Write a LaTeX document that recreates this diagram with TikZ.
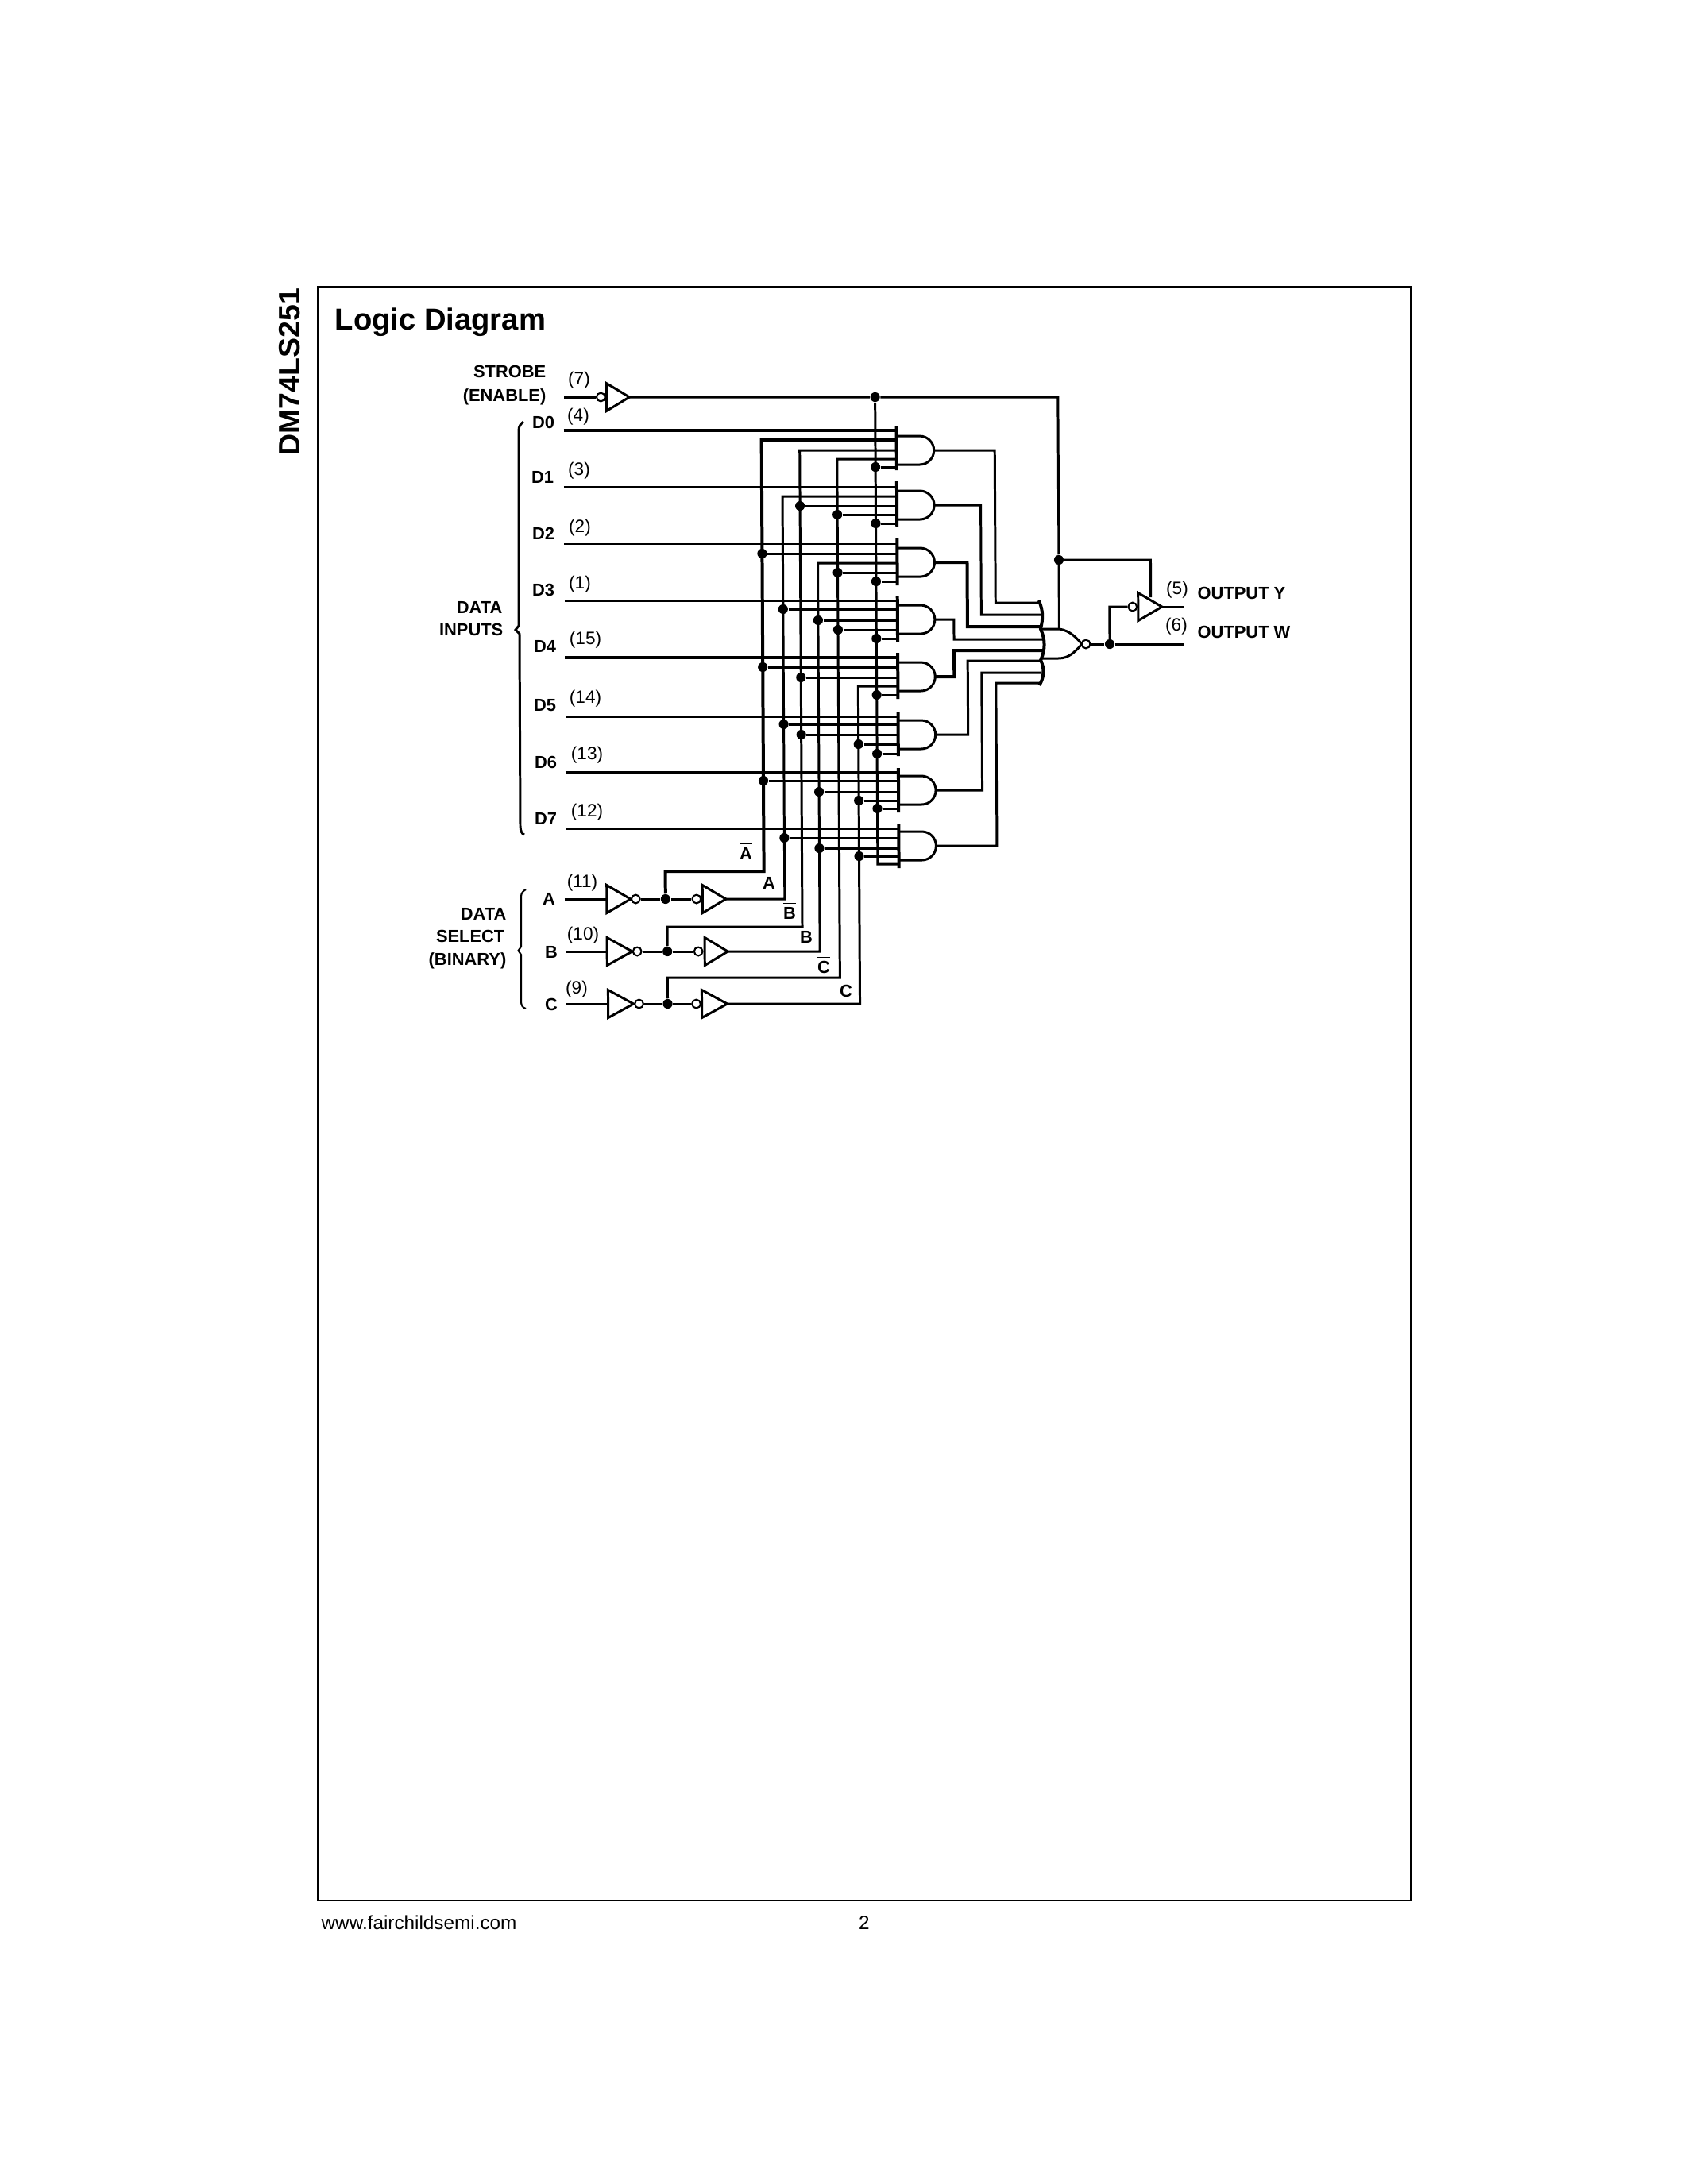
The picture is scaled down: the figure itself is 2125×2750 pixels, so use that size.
\documentclass[tikz,border=0pt]{standalone}
\usepackage{fontspec}
\setmainfont{Liberation Sans}
\tikzset{
  wire/.style={line width=.86pt},
  lightwire/.style={line width=.6pt},
  heavywire/.style={line width=1.15pt},
  dot/.style={circle,fill=black,inner sep=0pt,minimum size=3.5pt},
  bub/.style={circle,draw,fill=white,line width=.6pt,inner sep=0pt,minimum size=3.1pt},
  lab/.style={inner sep=0pt,text height=4.4pt,text depth=0pt,font=\fontsize{6.3}{7}\bfseries\selectfont},
  pin/.style={inner sep=0pt,font=\fontsize{6.5}{7}\selectfont},
}
\def\xnA{960}\def\xA{986}\def\xnB{1008}\def\xB{1030}\def\xnC{1055}\def\xC{1080}
\def\xS{1103.3}\def\xbar{1130}
\begin{document}
\begin{tikzpicture}[x=.288pt,y=-.288pt]
\useasboundingbox (0,0) rectangle (2125,2750);
\draw[line width=.75pt] (400.7,361.3) rectangle (1776,2393);
\node[rotate=90,anchor=base west,inner sep=0pt,font=\fontsize{10.8}{12}\bfseries\selectfont] (part) at (377,574) {DM74LS251};
\node[anchor=base west,inner sep=0pt,font=\fontsize{11}{12}\bfseries\selectfont] (title) at (421,415) {Logic Diagram};
\node[anchor=base west,inner sep=0pt,font=\fontsize{7}{8}\selectfont] (web) at (404,2429) {www.fairchildsemi.com};
\node[anchor=base,inner sep=0pt,font=\fontsize{7}{8}\selectfont] (page) at (1088,2429) {2};

% labels on the left
\node[lab,anchor=east] (strobe) at (688,468) {STROBE};
\node[lab,anchor=east] (enable) at (688,498) {(ENABLE)};
\node[pin] (p7) at (729,479) {(7)};
\foreach \n/\x/\y/\px/\py/\t in {0/684/532/728/525/4,1/683/601/729/593/3,2/684/672/730/665/2,
  3/684/743/730/736/1,4/686/814/737/806/15,5/686/888/737/880/14,6/687/960/739/951/13,7/687/1031/739/1023/12}{
  \node[lab] (ld\n) at (\x,\y) {D\n};
  \node[pin] (pd\n) at (\px,\py) {(\t)};
}
\node[lab,anchor=east] (ldata) at (633,765) {DATA};
\node[lab,anchor=east] (linputs) at (634,793) {INPUTS};
\draw[wire] (659,531) .. controls (655,534) and (653,537) .. (653,542) -- (653,788) -- (649,793)
  -- (654,798) -- (655,1040) .. controls (655,1046) and (657,1050) .. (660,1051);
\node[lab,anchor=east] (lsel1) at (638,1151) {DATA};
\node[lab,anchor=east] (lsel2) at (636,1179) {SELECT};
\node[lab,anchor=east] (lsel3) at (638,1208) {(BINARY)};
\draw[lightwire] (662,1120) .. controls (658,1122) and (656,1125) .. (656,1129) -- (656,1192) -- (652.5,1197)
  -- (656,1202) -- (656,1261) .. controls (656,1266) and (658,1269) .. (662,1270);
\node[lab] (la) at (691,1132) {A};
\node[lab] (lb) at (694,1199) {B};
\node[lab] (lc) at (694,1265) {C};
\node[pin] (p11) at (733,1112) {(11)};
\node[pin] (p10) at (734,1178) {(10)};
\node[pin] (p9) at (726,1246) {(9)};
\node[lab] (bnA) at (939,1075) {$\overline{\mbox{A}}$};
\node[lab] (bA) at (968,1112) {A};
\node[lab] (bnB) at (994,1150) {$\overline{\mbox{B}}$};
\node[lab] (bB) at (1015,1180) {B};
\node[lab] (bnC) at (1037,1218) {$\overline{\mbox{C}}$};
\node[lab] (bC) at (1065,1248) {C};
% labels on the right
\node[pin] (p5) at (1482,743) {(5)};
\node[lab,anchor=west] (outy) at (1507,747) {OUTPUT Y};
\node[pin] (p6) at (1481,789) {(6)};
\node[lab,anchor=west] (outw) at (1507,796) {OUTPUT W};

% the scan leans a little, so the wiring does too
\begin{scope}[xshift=-1.267pt,xslant=-.0055]
% and gates
\foreach \g/\ya/\yb/\yc/\yd/\ye/\yt/\yu/\yo in {
  0/542/554/567/578/588/537/592/567,
  1/613/625/637/648/659/606/663/636,
  2/685/697/709/721/732/677/737/708,
  3/757/767/781/793/804/750/808/780,
  4/828/840/853/864/875/822/880/852,
  5/902/912/925/937/949/896/952/925,
  6/972/983/997/1008/1018/967/1023/995,
  7/1043/1055/1068/1078/1088/1037/1093/1065}{
  \coordinate (g\g i1) at (\xbar,\ya);
  \coordinate (g\g i2) at (\xbar,\yb);
  \coordinate (g\g i3) at (\xbar,\yc);
  \coordinate (g\g i4) at (\xbar,\yd);
  \coordinate (g\g i5) at (\xbar,\ye);
  \coordinate (o\g) at (1177,\yo);
  \draw[heavywire] (\xbar,\yt) -- (\xbar,\yu);
  \draw[wire] (\xbar,\yo-18) -- (1159,\yo-18) arc[start angle=-90,end angle=90,radius=18] -- (\xbar,\yo+18);
}
% data inputs
\foreach \g/\y/\w in {0/542/heavywire,1/613/wire,2/685/lightwire,3/757/lightwire,
  4/828/heavywire,5/902/wire,6/972/wire,7/1043/wire}{
  \coordinate (d\g) at (711,\y);
  \draw[\w] (d\g) -- (g\g i1);
}
% buffers
\foreach \n/\l/\r/\y in {S/765/794/500,A1/762/792/1132,A2/882.5/912/1132,B1/762/793.6/1198,
  B2/885/914/1198,C1/763/795/1264,C2/881/913/1264,Y/1433/1463/764}{
  \coordinate (l\n) at (\l,\y);
  \coordinate (t\n) at (\r,\y);
  \draw[wire] (\l,\y-17.5) -- (t\n) -- (\l,\y+17.5) -- cycle;
}
% select inputs
\foreach \n/\y/\xi/\xa/\xj/\xb in {A/1132/709/798.5/836/875,B/1198/710/800/838/877,C/1264/710/802/838/874}{
  \coordinate (in\n) at (\xi,\y);
  \node[bub] (b\n1) at (\xa,\y) {};
  \node[dot] (j\n) at (\xj,\y) {};
  \node[bub] (b\n2) at (\xb,\y) {};
  \draw[wire] (in\n) -- (l\n1);
  \draw[wire] (t\n1) -- (b\n1) -- (j\n) -- (b\n2) -- (l\n2);
}
% select buses
\coordinate (topnA) at (\xnA,554);
\coordinate (endnA) at (\xnA,1097);
\coordinate (topA) at (\xA,625);
\coordinate (endA) at (\xA,1132);
\coordinate (topnB) at (\xnB,567);
\coordinate (endnB) at (\xnB,1167);
\coordinate (topB) at (\xB,709);
\coordinate (endB) at (\xB,1198);
\coordinate (topnC) at (\xnC,578);
\coordinate (endnC) at (\xnC,1231);
\coordinate (topC) at (\xC,864);
\coordinate (endC) at (\xC,1264);
\draw[heavywire] (g0i2) -- (topnA) -- (endnA) -- (836,1097) -- (jA);
\draw[wire] (g1i2) -- (topA) -- (endA) -- (tA2);
\draw[wire] (g0i3) -- (topnB) -- (endnB) -- (838,1167) -- (jB);
\draw[wire] (g2i3) -- (topB) -- (endB) -- (tB2);
\draw[wire] (g0i4) -- (topnC) -- (endnC) -- (838,1231) -- (jC);
\draw[wire] (g4i4) -- (topC) -- (endC) -- (tC2);
\foreach \g/\i/\x/\y in {1/3/\xnB/637,1/4/\xnC/648,2/2/\xnA/697,2/4/\xnC/721,3/2/\xA/767,3/3/\xB/781,
  3/4/\xnC/793,4/2/\xnA/840,4/3/\xnB/853,5/2/\xA/912,5/3/\xnB/925,5/4/\xC/937,6/2/\xnA/983,6/3/\xB/997,
  6/4/\xC/1008,7/2/\xA/1055,7/3/\xB/1068,7/4/\xC/1078}{
  \node[dot] (j\g\i) at (\x,\y) {};
  \draw[wire] (j\g\i) -- (g\g i\i);
}
% strobe
\coordinate (inS) at (712,500);
\node[bub] (bS) at (758,500) {};
\node[dot] (jS) at (\xS,500) {};
\node[dot] (jE) at (1333.5,705) {};
\coordinate (ortop) at (1333.5,792);
\coordinate (endS) at (\xS,1088);
\draw[wire] (inS) -- (bS) -- (lS);
\draw[wire] (tS) -- (jS) -- (1333.5,500) -- (jE) -- (ortop);
\draw[wire] (jS) -- (endS) -- (g7i5);
\foreach \g/\y in {0/588,1/659,2/732,3/804,4/875,5/949,6/1018}{
  \node[dot] (js\g) at (\xS,\y) {};
  \draw[wire] (js\g) -- (g\g i5);
}
% outputs to the nor gate
\foreach \g/\x/\y/\yo/\e/\w in {0/1253.5/759/567/1309/wire,1/1235.5/774/636/1311/wire,2/1218/789/708/1311/heavywire,
  3/1201/805/780/1314/wire,4/1201/819/852/1314/heavywire,5/1218/832/925/1311/wire,6/1235.5/847/995/1311/wire,7/1253.5/860/1065/1309/wire}{
  \coordinate (or\g) at (\e,\y);
  \draw[\w] (o\g) -- (\x,\yo) -- (\x,\y) -- (or\g);
}
% nor gate
\coordinate (ortip) at (1362,811);
\draw[heavywire] (1308,756) .. controls (1314,770) and (1313,780) .. (1310,792)
  .. controls (1316,805) and (1316,818) .. (1310,831) .. controls (1315,843) and (1314,853) .. (1308,863);
\draw[wire] (1310,792) -- (ortop) .. controls (1347,794) and (1355,803) .. (ortip)
  .. controls (1352,822) and (1345,829) .. (1332,829) -- (1310,829);
\node[bub] (bW) at (1367,811) {};
\node[dot] (jW) at (1397,811) {};
\node[bub] (bY) at (1426,764) {};
\coordinate (outW) at (1490,811);
\coordinate (outY) at (1490,764);
\coordinate (enY) at (1449,752);
\draw[wire] (bW) -- (jW) -- (outW);
\draw[wire] (jW) -- (1397,764) -- (bY) -- (lY);
\draw[wire] (tY) -- (outY);
\draw[wire] (jE) -- (1449,705) -- (enY);
\end{scope}
\end{tikzpicture}
\end{document}
